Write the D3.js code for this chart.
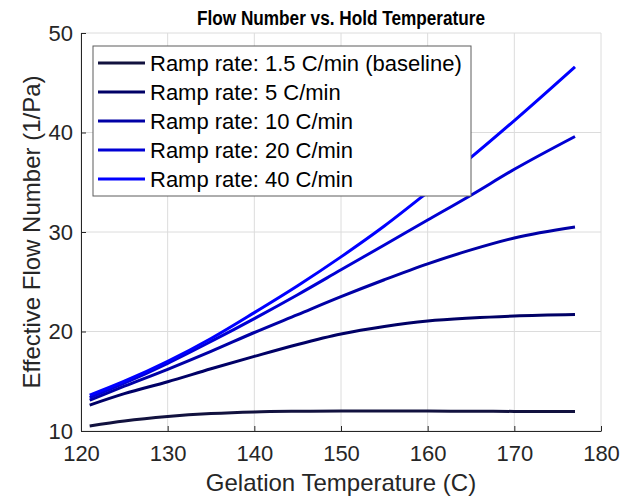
<!DOCTYPE html>
<html>
<head>
<meta charset="utf-8">
<script src="https://cdn.jsdelivr.net/npm/d3@7"></script>
<style>
  body { margin: 0; background: #fff; }
  svg { font-family: "Liberation Sans", Arial, sans-serif; }
</style>
</head>
<body>
<svg id="chart" width="621" height="499"></svg>
<script>
// gelation temperatures (C) where each curve was sampled
const temps = [121, 125, 130, 135, 140, 145, 150, 155, 160, 165, 170, 177];

const seriesNames = [
  "Ramp rate: 1.5 C/min (baseline)",
  "Ramp rate: 5 C/min",
  "Ramp rate: 10 C/min",
  "Ramp rate: 20 C/min",
  "Ramp rate: 40 C/min"
];

const rate1_5 = [10.5, 11.0, 11.45, 11.75, 11.92, 11.98, 12.0, 12.0, 12.0, 11.99, 11.97, 11.95];
const rate5 = [12.6, 13.75, 14.95, 16.25, 17.5, 18.7, 19.75, 20.5, 21.05, 21.35, 21.55, 21.7];
const rate10 = [13.1, 14.5, 16.2, 18.0, 19.9, 21.7, 23.5, 25.2, 26.8, 28.2, 29.4, 30.5];
const rate20 = [13.35, 14.8, 16.8, 19.0, 21.3, 23.7, 26.2, 28.7, 31.2, 33.7, 36.3, 39.6];
const rate40 = [13.6, 15.0, 17.0, 19.3, 21.9, 24.6, 27.5, 30.6, 34.0, 37.5, 41.2, 46.6];

const colors = ["#12123f", "#000066", "#0000a6", "#0000d4", "#0000ff"];

const xTicks = [120, 130, 140, 150, 160, 170, 180];
const yTicks = [10, 20, 30, 40, 50];

const allSeries = [rate1_5, rate5, rate10, rate20, rate40];

const margin = { top: 33, right: 20, bottom: 68, left: 81 },
      width = 621 - margin.left - margin.right,
      height = 499 - margin.top - margin.bottom;

const svg = d3.select("#chart");
const g = svg.append("g").attr("transform", `translate(${margin.left},${margin.top})`);

const x = d3.scaleLinear().domain([120, 180]).range([0, width]);
const y = d3.scaleLinear().domain([10, 50]).range([height, 0]);

// grid
g.append("g")
  .selectAll("line")
  .data(xTicks)
  .join("line")
  .attr("x1", d => x(d)).attr("x2", d => x(d))
  .attr("y1", 0).attr("y2", height)
  .attr("stroke", "#dcdcdc").attr("stroke-width", 1);

g.append("g")
  .selectAll("line")
  .data(yTicks)
  .join("line")
  .attr("x1", 0).attr("x2", width)
  .attr("y1", d => y(d)).attr("y2", d => y(d))
  .attr("stroke", "#dcdcdc").attr("stroke-width", 1);

// axes
const xAxis = g.append("g")
  .attr("transform", `translate(0,${height})`)
  .call(d3.axisBottom(x).tickValues(xTicks).tickSizeInner(-5).tickSizeOuter(0).tickPadding(14));

const yAxis = g.append("g")
  .call(d3.axisLeft(y).tickValues(yTicks).tickSizeInner(-5).tickSizeOuter(0).tickPadding(8));

[xAxis, yAxis].forEach(ax => {
  ax.select(".domain").attr("stroke", "#262626").attr("stroke-width", 1);
  ax.selectAll(".tick line").attr("stroke", "#262626");
  ax.selectAll(".tick text")
    .attr("fill", "#262626")
    .style("font-size", "22px");
});
xAxis.selectAll(".tick text").attr("dy", "0.71em");

// lines
const line = d3.line()
  .x((d, i) => x(temps[i]))
  .y(d => y(d))
  .curve(d3.curveMonotoneX);

g.append("g")
  .selectAll("path")
  .data(allSeries)
  .join("path")
  .attr("d", d => line(d))
  .attr("fill", "none")
  .attr("stroke", (d, i) => colors[i])
  .attr("stroke-width", 3);

// legend
const legend = g.append("g").attr("transform", "translate(12,13)");

legend.append("rect")
  .attr("width", 378).attr("height", 150)
  .attr("fill", "#fff")
  .attr("stroke", "#5c5c5c").attr("stroke-width", 1);

const rows = legend.selectAll("g.row")
  .data(seriesNames)
  .join("g")
  .attr("transform", (d, i) => `translate(0,${17 + i * 29})`);

rows.append("line")
  .attr("x1", 5).attr("x2", 52)
  .attr("stroke", (d, i) => colors[i])
  .attr("stroke-width", 3);

rows.append("text")
  .attr("x", 57)
  .attr("dy", "0.35em")
  .attr("fill", "#000")
  .style("font-size", "22px")
  .text(d => d);

// title and labels
svg.append("text")
  .attr("x", margin.left + width / 2)
  .attr("y", 25)
  .attr("text-anchor", "middle")
  .attr("fill", "#000")
  .attr("textLength", 288)
  .attr("lengthAdjust", "spacingAndGlyphs")
  .style("font-size", "20px")
  .style("font-weight", "bold")
  .text("Flow Number vs. Hold Temperature");

svg.append("text")
  .attr("x", margin.left + width / 2)
  .attr("y", 491)
  .attr("text-anchor", "middle")
  .attr("fill", "#262626")
  .style("font-size", "24px")
  .text("Gelation Temperature (C)");

svg.append("text")
  .attr("transform", `translate(40,${margin.top + height / 2}) rotate(-90)`)
  .attr("text-anchor", "middle")
  .attr("fill", "#262626")
  .style("font-size", "24px")
  .text("Effective Flow Number (1/Pa)");
</script>
</body>
</html>
